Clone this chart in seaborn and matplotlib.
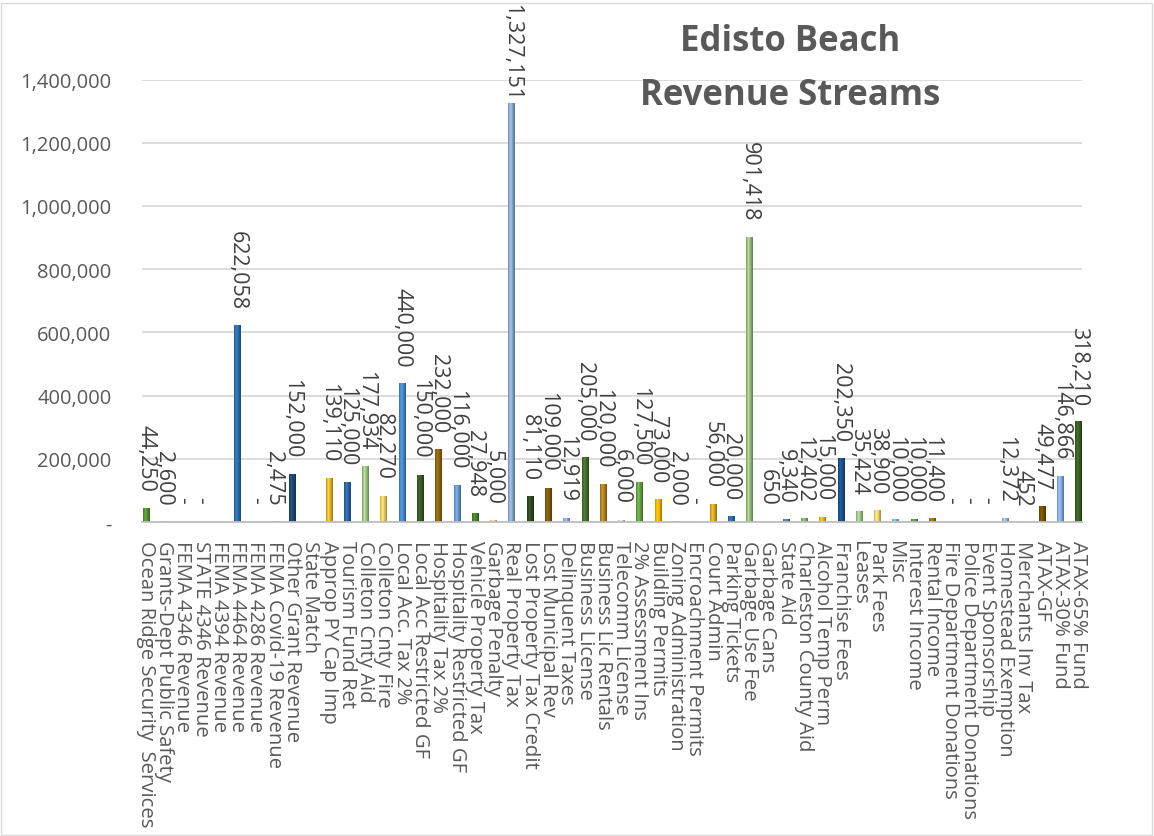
import numpy as np
import pandas as pd
import matplotlib
matplotlib.use("Agg")
import matplotlib.pyplot as plt
from matplotlib.patches import Rectangle
from matplotlib.ticker import FuncFormatter, MultipleLocator
import seaborn as sns

# Revenue line items, in ledger order
categories = [
    "Ocean Ridge Security  Services", "Grants-Dept Public Safety", "FEMA 4346 Revenue",
    "STATE 4346 Revenue", "FEMA 4394 Revenue", "FEMA 4464 Revenue", "FEMA 4286 Revenue",
    "FEMA Covid-19 Revenue", "Other Grant Revenue", "State Match", "Approp PY Cap Imp",
    "Tourism Fund Ret", "Colleton Cnty Aid", "Colleton Cnty Fire", "Local Acc. Tax 2%",
    "Local Acc Restricted GF", "Hospitality Tax 2%", "Hospitality Restricted GF",
    "Vehicle Property Tax", "Garbage Penalty", "Real Property Tax", "Lost Property Tax Credit",
    "Lost Municipal Rev", "Delinquent Taxes", "Business License", "Business Lic Rentals",
    "Telecomm License", "2% Assessment Ins", "Building Permits", "Zoning Administration",
    "Encroachment Permits", "Court Admin", "Parking Tickets", "Garbage Use Fee",
    "Garbage Cans", "State Aid", "Charleston County Aid", "Alcohol Temp Perm",
    "Franchise Fees", "Leases", "Park Fees", "Misc", "Interest Income", "Rental Income",
    "Fire Department Donations", "Police Department Donations", "Event Sponsorship",
    "Homestead Exemption", "Merchants Inv Tax", "ATAX-GF", "ATAX-30% Fund", "ATAX-65% Fund",
]

# Budgeted amounts in dollars (None = no entry)
amounts = [
    44250, 2600, 0, 0, None, 622058, 0, 2475, 152000, None, 139110,
    125000, 177934, 82270, 440000, 150000, 232000, 116000,
    27948, 5000, 1327151, 81110, 109000, 12919, 205000, 120000,
    6000, 127500, 73000, 2000, 0, 56000, 20000, 901418,
    650, 9340, 12402, 15000, 202350, 35424, 38900, 10000, 10000, 11400,
    0, 0, 0, 12372, 452, 49477, 146866, 318210,
]

# Blue / green / gold shades cycling across the line items
bar_colors = [
    "#5B9B3A", "#E8B62C", "#2E75B6", "#70AD47", "#FFC000", "#2E75B6", "#548235",
    "#BF9000", "#1F4E79", "#385723", "#F2C12E", "#2F6BAF", "#A9D18E", "#FFD966",
    "#4A8FDA", "#3D5E2A", "#9A6A10", "#6FA3DC", "#4C8A2A", "#F5DFA0", "#93B5DB",
    "#2F4D1E", "#8A5F12", "#8DB8E8", "#4A7530", "#BD8A20", "#D9E4F2", "#6AAE45",
    "#FFC000", "#5B9BD5", "#70AD47", "#E5B422", "#2E75B6", "#A2C98A", "#FFD966",
    "#5A80B5", "#8DBF6E", "#F2C230", "#1F5597", "#A9D18E", "#FFE07A", "#8DB8E8",
    "#72985A", "#A8781C", "#5B9BD5", "#70AD47", "#FFC000", "#9DC3E6", "#70AD47",
    "#7F5700", "#8DB8E8", "#3B6526",
]

sns.set_theme(style="white")
plt.rcParams["font.family"] = ["Open Sans", "DejaVu Sans"]

df = pd.DataFrame({"category": categories, "amount": amounts})
df["amount"] = pd.to_numeric(df["amount"])

W, H = 1154, 837
fig = plt.figure(figsize=(W / 100, H / 100), dpi=100)
ax = fig.add_axes([142 / W, 1 - 523 / H, 940 / W, (523 - 80.5) / H])

sns.barplot(
    data=df, x="category", y="amount", hue="category",
    order=categories, hue_order=categories,
    palette=dict(zip(categories, bar_colors)),
    width=0.33, saturation=1, dodge=False, legend=False, ax=ax,
)

# Give each bar a rounded, cylinder-like shading across its width
shade = np.interp(np.linspace(0, 1, 24), [0, 0.35, 1], [0.78, 1.12, 0.62])
for patch in list(ax.patches):
    h = patch.get_height()
    if not np.isfinite(h) or h <= 0:
        continue
    fc = np.array(matplotlib.colors.to_rgb(patch.get_facecolor()))
    strip = np.clip(fc[None, :] * shade[:, None], 0, 1)[None, :, :]
    x0, w = patch.get_x(), patch.get_width()
    img = ax.imshow(strip, extent=(x0, x0 + w, 0, h), aspect="auto",
                    interpolation="bilinear", zorder=patch.get_zorder() + 0.1)
    img.set_clip_path(patch)
    patch.set_edgecolor(tuple(fc * 0.7))
    patch.set_linewidth(0.6)

ax.set_xlim(-0.2, len(categories) - 0.8)
ax.set_ylim(0, 1400000)
ax.yaxis.set_major_locator(MultipleLocator(200000))
ax.yaxis.set_major_formatter(FuncFormatter(lambda v, _: "-" if v == 0 else f"{v:,.0f}"))
ax.yaxis.grid(True, color="#D9D9D9", linewidth=1.3)
ax.set_axisbelow(True)
for side in ("top", "right", "left"):
    ax.spines[side].set_visible(False)
ax.spines["bottom"].set_color("#BFBFBF")
ax.spines["bottom"].set_linewidth(1.3)
ax.set_xlabel("")
ax.set_ylabel("")
ax.tick_params(axis="y", length=0, pad=22, labelsize=14.5, labelcolor="#595959")
ax.tick_params(axis="x", length=0, pad=13, labelsize=14.6, labelcolor="#595959")
ax.set_xticks(range(len(categories)))
ax.set_xticklabels(categories, rotation=270, ha="center", va="top")

# Value labels above each bar, kept inside the figure
gap_pt = 12
labels = []
for i, val in enumerate(amounts):
    if val is None:
        continue
    if val == 0:
        ax.annotate("-", xy=(i, 0), xytext=(0, 14), textcoords="offset points",
                    rotation=270, ha="center", va="bottom", fontsize=15,
                    color="#404040", annotation_clip=False)
    else:
        t = ax.annotate(f"{val:,.0f}", xy=(i, val), xytext=(0, gap_pt),
                        textcoords="offset points", rotation=270, ha="center",
                        va="bottom", fontsize=15.5, color="#404040",
                        annotation_clip=False)
        labels.append(t)

fig.canvas.draw()
renderer = fig.canvas.get_renderer()
for t in labels:
    top = t.get_window_extent(renderer).y1
    limit = H - 4
    if top > limit:
        shift_pt = (top - limit) * 72 / fig.dpi
        t.set_position((0, gap_pt - shift_pt))

fig.text(790 / W, 1 - 42 / H, "Edisto Beach", ha="center", va="center",
         fontsize=25, fontweight="bold", color="#595959")
fig.text(790 / W, 1 - 96 / H, "Revenue Streams", ha="center", va="center",
         fontsize=25, fontweight="bold", color="#595959")

fig.patches.append(Rectangle((1 / W, 1 / H), 1 - 3 / W, 1 - 5 / H, transform=fig.transFigure,
                             fill=False, edgecolor="#D9D9D9", linewidth=1))

fig.savefig("out.png", dpi=100)
